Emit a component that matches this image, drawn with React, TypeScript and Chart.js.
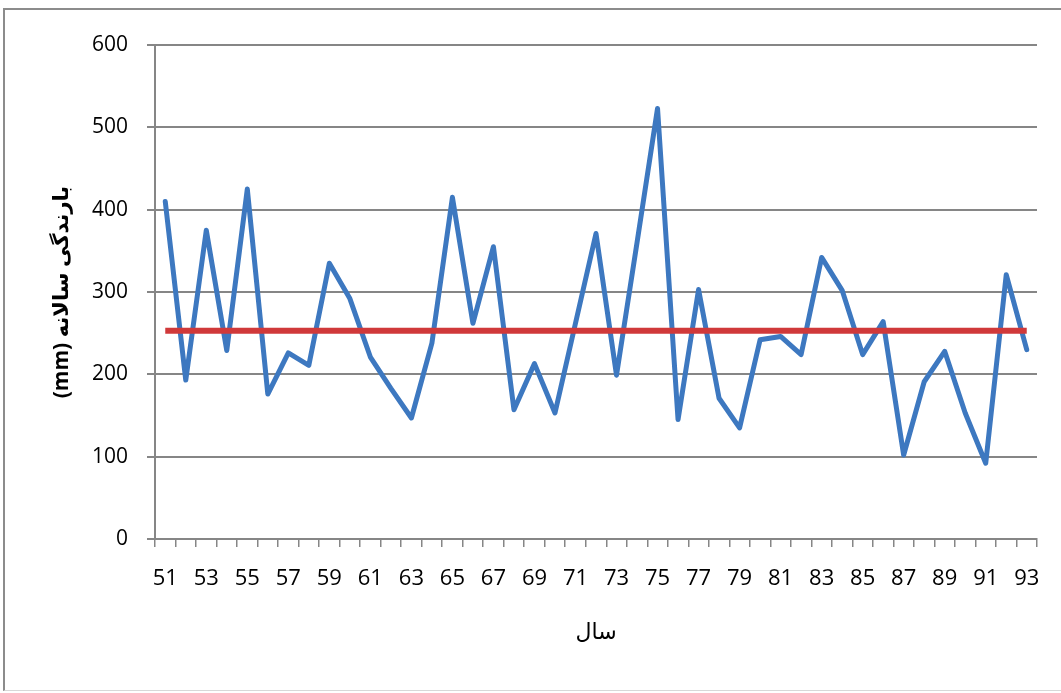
import React, { useEffect, useRef } from "react";
import { Chart, registerables } from "chart.js";

Chart.register(...registerables);

const years: string[] = [
  "51", "52", "53", "54", "55", "56", "57", "58", "59", "60",
  "61", "62", "63", "64", "65", "66", "67", "68", "69", "70",
  "71", "72", "73", "74", "75", "76", "77", "78", "79", "80",
  "81", "82", "83", "84", "85", "86", "87", "88", "89", "90",
  "91", "92", "93",
];

const rainfall: number[] = [
  410, 193, 375, 229, 425, 176, 226, 211, 335, 292,
  221, 183, 147, 238, 415, 262, 355, 157, 213, 153,
  262, 371, 199, 360, 523, 145, 303, 171, 135, 242,
  246, 224, 342, 302, 224, 264, 102, 191, 228, 153,
  92, 321, 230,
];

const meanValue = 253;
const meanLine: number[] = years.map(() => meanValue);

const yTitle = "(mm) بارندگی سالانه";
const xTitle = "سال";

const FONT = "'Open Sans', 'DejaVu Sans', sans-serif";

export default function App() {
  const ref = useRef<HTMLCanvasElement | null>(null);

  useEffect(() => {
    document.body.style.margin = "0";
    const canvas = ref.current;
    if (!canvas) return;
    const chart = new Chart(canvas, {
      type: "line",
      data: {
        labels: years,
        datasets: [
          {
            label: "mean",
            data: meanLine,
            borderColor: "#d0393a",
            borderWidth: 6,
            pointRadius: 0,
            tension: 0,
            order: 0,
          },
          {
            label: "rain",
            data: rainfall,
            borderColor: "#3d78c0",
            borderWidth: 5,
            pointRadius: 0,
            tension: 0,
            order: 1,
            borderJoinStyle: "round",
            borderCapStyle: "round",
          },
        ],
      },
      options: {
        animation: false,
        responsive: false,
        maintainAspectRatio: false,
        devicePixelRatio: 1,
        layout: { padding: { top: 45, right: 24, left: 0, bottom: 0 } },
        plugins: {
          legend: { display: false },
          tooltip: { enabled: false },
        },
        scales: {
          x: {
            type: "category",
            offset: true,
            grid: {
              offset: true,
              drawOnChartArea: false,
              drawTicks: true,
              tickLength: 8,
              color: "#868686",
              lineWidth: 1.5,
            },
            border: { display: true, color: "#868686", width: 2 },
            ticks: {
              autoSkip: false,
              maxRotation: 0,
              minRotation: 0,
              padding: 19,
              color: "#000",
              font: { family: FONT, size: 22 },
              callback: (_v: any, i: number) => (i % 2 === 0 ? years[i] : ""),
            },
            title: {
              display: true,
              text: xTitle,
              color: "#000",
              font: { family: FONT, size: 22 },
              padding: { top: 0, bottom: 47 },
            },
            afterFit: (scale: any) => {
              scale.height = 154;
            },
          },
          y: {
            min: 0,
            max: 600,
            ticks: {
              stepSize: 100,
              padding: 19,
              color: "#000",
              font: { family: FONT, size: 21 },
            },
            grid: {
              color: "#868686",
              lineWidth: 2,
              drawTicks: true,
              tickLength: 8,
            },
            border: { display: true, color: "#868686", width: 2 },
            title: {
              display: true,
              text: yTitle,
              color: "#000",
              font: { family: FONT, size: 21, weight: "bold" },
              padding: { top: 49, bottom: 0 },
            },
            afterFit: (scale: any) => {
              scale.width = 155;
            },
          },
        },
      },
    });
    return () => {
      chart.destroy();
    };
  }, []);

  return (
    <div
      style={{
        position: "relative",
        width: 1061,
        height: 693,
        background: "#fff",
        boxSizing: "border-box",
        overflow: "hidden",
      }}
    >
      <div
        style={{
          position: "absolute",
          left: 3,
          top: 8,
          right: -4,
          bottom: 2,
          borderLeft: "2px solid #8c8c8c",
          borderTop: "2px solid #8c8c8c",
          borderBottom: "1px solid #d8d8d8",
          pointerEvents: "none",
        }}
      />
      <canvas
        ref={ref}
        width={1061}
        height={693}
        style={{ position: "absolute", left: 0, top: 0, width: 1061, height: 693 }}
      />
    </div>
  );
}
